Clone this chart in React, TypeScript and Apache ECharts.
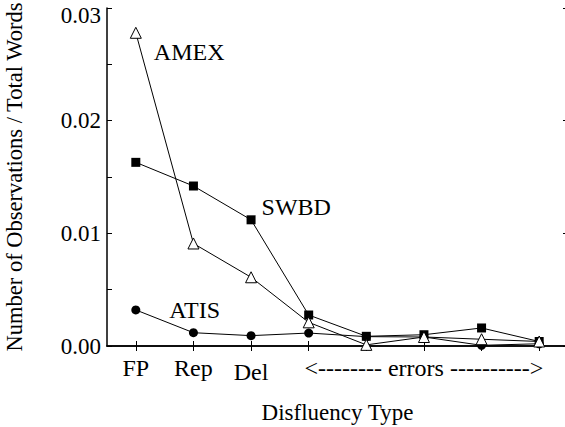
import React, { useEffect, useRef } from "react";
import * as echarts from "echarts";

const categories = ["FP", "Rep", "Del", "E1", "E2", "E3", "E4", "E5"];
const errorsLabel = "<-------- errors ---------->";
const amex = [0.0278, 0.0091, 0.0061, 0.0021, 0.0001, 0.0008, 0.0006, 0.0004];
const swbd = [0.0163, 0.0142, 0.0112, 0.00275, 0.00086, 0.001, 0.0016, 0.0004];
const atis = [0.0032, 0.00118, 0.00092, 0.00115, 0.00083, 0.0008, 0.00006, 0.0002];
const yTicks = [0, 0.01, 0.02, 0.03];

const FONT = "Liberation Serif";

export default function App() {
  const ref = useRef<HTMLDivElement>(null);
  useEffect(() => {
    if (!ref.current) return;
    const chart = echarts.init(ref.current, undefined, { renderer: "svg" });
    const labelStyle = { fontFamily: FONT, fontSize: 24, color: "#000" };
    const mkLabel = (text: string, offset: number[]) => ({
      show: true,
      position: "right",
      offset,
      formatter: text,
      ...labelStyle,
    });
    chart.setOption({
      animation: false,
      backgroundColor: "#fff",
      textStyle: { fontFamily: FONT },
      grid: {
        left: 107,
        top: 8,
        width: 461,
        height: 338,
        containLabel: false,
        outerBoundsMode: "none",
      },
      xAxis: [
        {
          type: "category",
          data: categories,
          boundaryGap: true,
          position: "bottom",
          axisLine: { show: true, lineStyle: { color: "#000", width: 1.5 } },
          axisTick: { show: true, inside: true, alignWithLabel: true, length: 5, lineStyle: { color: "#000" } },
          axisLabel: {
            interval: 0,
            margin: 10,
            fontFamily: FONT,
            fontSize: 24,
            color: "#000",
            formatter: (v: string, i: number) => {
              if (i < 2) return v;
              if (i === 2) return "{low|" + v + "}";
              if (i === 5) return errorsLabel;
              return "";
            },
            rich: { low: { fontFamily: FONT, fontSize: 24, color: "#000", padding: [4, 0, 0, 0] } },
          },
          splitLine: { show: false },
          name: "Disfluency Type",
          nameLocation: "middle",
          nameGap: 55,
          nameTextStyle: { fontFamily: FONT, fontSize: 23, color: "#000" },
        },
        {
          type: "category",
          data: categories,
          boundaryGap: true,
          position: "top",
          axisLine: { show: true, lineStyle: { color: "#000", width: 1.5 } },
          axisTick: { show: true, inside: true, alignWithLabel: true, length: 5, lineStyle: { color: "#000" } },
          axisLabel: { show: false },
          splitLine: { show: false },
        },
      ],
      yAxis: [
        {
          type: "value",
          min: 0,
          max: 0.03,
          interval: 0.01,
          position: "left",
          axisLine: { show: true, lineStyle: { color: "#000", width: 1.5 } },
          axisTick: { show: true, inside: true, length: 5, lineStyle: { color: "#000" } },
          minorTick: { show: true, splitNumber: 2, length: 5, lineStyle: { color: "#000" } },
          axisLabel: {
            margin: 6,
            fontFamily: FONT,
            fontSize: 23,
            color: "#000",
            formatter: (v: number) => {
              const t = yTicks.find((y) => Math.abs(y - v) < 1e-9);
              if (t === undefined) return "";
              const s = t.toFixed(2);
              return t === yTicks[yTicks.length - 1] ? "{top|" + s + "}" : s;
            },
            rich: { top: { fontFamily: FONT, fontSize: 23, color: "#000", padding: [14, 0, 0, 0] } },
          },
          splitLine: { show: false },
          name: "Number of Observations / Total Words",
          nameLocation: "middle",
          nameGap: 81,
          nameTextStyle: { fontFamily: FONT, fontSize: 22.5, color: "#000" },
        },
        {
          type: "value",
          min: 0,
          max: 0.03,
          interval: 0.01,
          position: "right",
          axisLine: { show: false },
          axisTick: { show: true, inside: true, length: 5, lineStyle: { color: "#000" } },
          axisLabel: { show: false },
          splitLine: { show: false },
        },
      ],
      series: [
        {
          name: "AMEX",
          type: "line",
          data: amex.map((v, i) => (i === 0 ? { value: v, label: mkLabel("AMEX", [7, 19]) } : v)),
          symbol: "triangle",
          symbolSize: 11,
          lineStyle: { color: "#000", width: 1 },
          itemStyle: { color: "#fff", borderColor: "#000", borderWidth: 1 },
          z: 3,
        },
        {
          name: "SWBD",
          type: "line",
          data: swbd.map((v, i) => (i === 2 ? { value: v, label: mkLabel("SWBD", [1, -13]) } : v)),
          symbol: "rect",
          symbolSize: 9,
          lineStyle: { color: "#000", width: 1 },
          itemStyle: { color: "#000", borderColor: "#000", borderWidth: 0 },
          z: 2,
        },
        {
          name: "ATIS",
          type: "line",
          data: atis.map((v, i) => (i === 0 ? { value: v, label: mkLabel("ATIS", [24, 0]) } : v)),
          symbol: "circle",
          symbolSize: 9,
          lineStyle: { color: "#000", width: 1 },
          itemStyle: { color: "#000", borderColor: "#000", borderWidth: 0 },
          z: 1,
        },
      ],
    });
    return () => chart.dispose();
  }, []);
  return (
    <div
      ref={ref}
      style={{ position: "fixed", left: 0, top: 0, width: 565, height: 427, background: "#fff" }}
    />
  );
}
